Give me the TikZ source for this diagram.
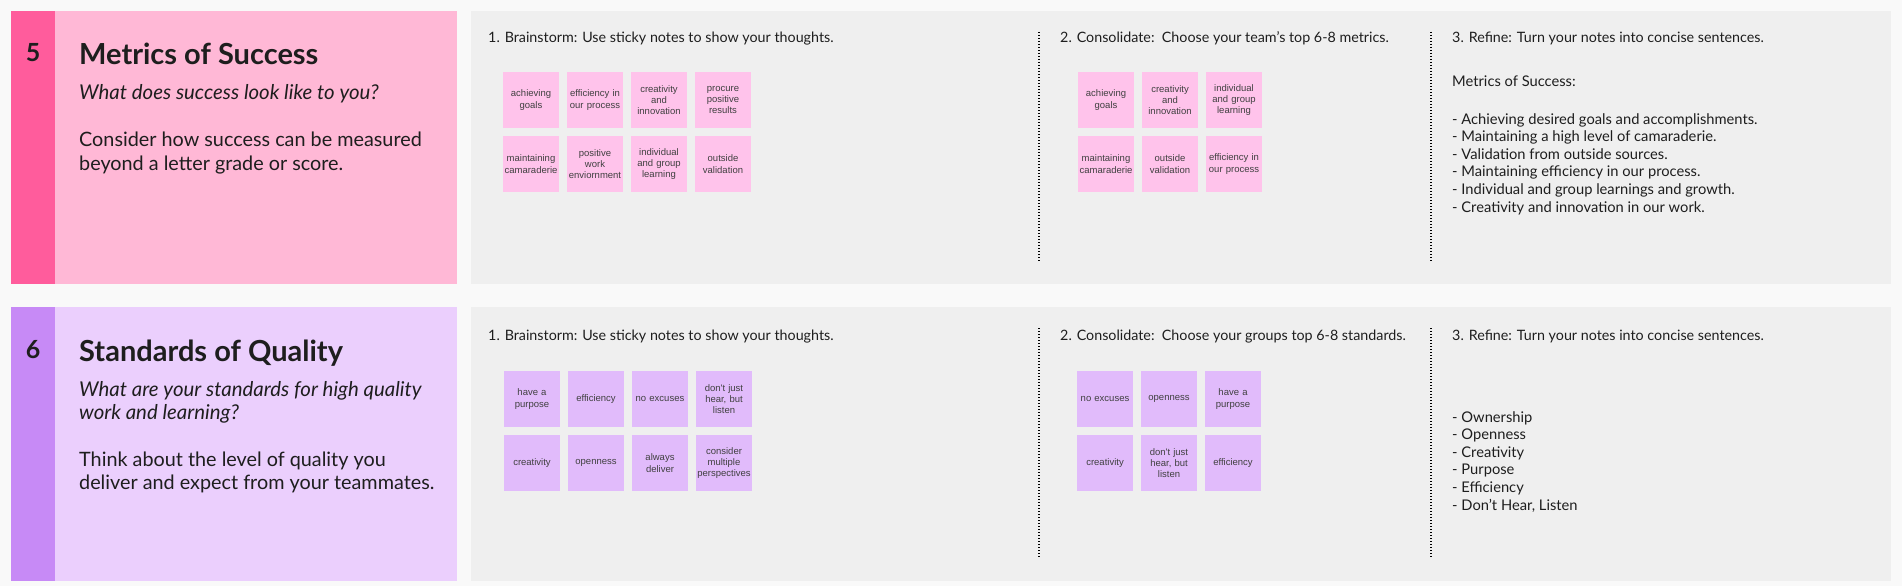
\documentclass[tikz,border=0pt]{standalone}
\usepackage{fontspec}
\setmainfont{Lato}
\newfontfamily\notefont{Liberation Sans}
\usetikzlibrary{positioning}
\definecolor{pagebg}{HTML}{F9F9F9}
\definecolor{workbg}{HTML}{EFEFEF}
\definecolor{pinkbar}{HTML}{FF5C9C}
\definecolor{pinkpanel}{HTML}{FFB8D6}
\definecolor{pinknote}{HTML}{FFC3EB}
\definecolor{purplebar}{HTML}{C78AF6}
\definecolor{purplepanel}{HTML}{EBCFFD}
\definecolor{purplenote}{HTML}{E1BBFB}
\definecolor{ink}{HTML}{1E1E1E}
\tikzset{font={\fontsize{14.3pt}{17.6pt}\selectfont}}
\tikzset{
  linetext/.style={anchor=base west, inner sep=0pt, text=ink},
  itemtext/.style={linetext, font={\fontsize{14.7pt}{17.6pt}\selectfont}},
  numtext/.style={anchor=base, inner sep=0pt, text=ink, font={\bfseries\fontsize{25pt}{25pt}\selectfont}},
  titletext/.style={linetext, font={\bfseries\fontsize{29pt}{29pt}\selectfont}},
  asktext/.style={linetext, font={\itshape\fontsize{20.4pt}{23pt}\selectfont}},
  bodytext/.style={linetext, font={\fontsize{19.8pt}{24pt}\selectfont}},
  stickynote/.style={minimum size=56pt, inner sep=0pt, text width=54pt, align=center, text=ink!85,
    font={\notefont\fontsize{9.5pt}{11.3pt}\selectfont}},
  divider/.style={line width=1.3pt, dash pattern=on 1.4pt off 1.6pt},
}
\begin{document}
\begin{tikzpicture}[x=1pt,y=-1pt]
  \useasboundingbox[fill=pagebg] (0,0) rectangle (1902,586);
  %row 5 panels
  \fill[pinkpanel] (11,11) rectangle (457,284);
  \fill[pinkbar] (11,11) rectangle (55,284);
  \fill[workbg] (471,11) rectangle (1891,284);
  %row 6 panels
  \fill[purplepanel] (11,307) rectangle (457,581);
  \fill[purplebar] (11,307) rectangle (55,581);
  \fill[workbg] (471,307) rectangle (1891,581);
  %dividers
  \foreach \x in {1039,1431}{
    \draw[divider] (\x,32) -- (\x,262);
    \draw[divider] (\x,328) -- (\x,558);
  }
  %left card, metrics
  \node[numtext] (num5) at (33,61) {5};
  \node[titletext] (title5) at (79,64) {Metrics of Success};
  \node[asktext] (ask5) at (79,99) {What does success look like to you?};
  \node[bodytext] (body5a) at (79,146) {Consider how success can be measured};
  \node[bodytext] (body5b) at (79,170) {beyond a letter grade or score.};
  %left card, standards
  \node[numtext] (num6) at (33,358) {6};
  \node[titletext] (title6) at (79,361) {Standards of Quality};
  \node[asktext] (ask6a) at (79,396) {What are your standards for high quality};
  \node[asktext] (ask6b) at (79,419) {work and learning?};
  \node[bodytext] (body6a) at (79,466) {Think about the level of quality you};
  \node[bodytext] (body6b) at (79,489) {deliver and expect from your teammates.};
  %step headers
  \node[linetext] (brain5) at (488,43) {1. Brainstorm: Use sticky notes to show your thoughts.};
  \node[linetext] (cons5) at (1060,43) {2. Consolidate:\ \ Choose your team's top 6-8 metrics.};
  \node[linetext] (refine5) at (1452,43) {3. Refine: Turn your notes into concise sentences.};
  \node[linetext] (brain6) at (488,340) {1. Brainstorm: Use sticky notes to show your thoughts.};
  \node[linetext] (cons6) at (1060,340) {2. Consolidate:\ \ Choose your groups top 6-8 standards.};
  \node[linetext] (refine6) at (1452,340) {3. Refine: Turn your notes into concise sentences.};
  %sticky notes, brainstorm
  \foreach \c/\r/\t [count=\i] in {1/1/{achieving\\goals}, 2/1/{efficiency in\\our process},
      3/1/{creativity\\and\\innovation}, 4/1/{procure\\positive\\results}, 1/2/{maintaining\\camaraderie},
      2/2/{positive\\work\\enviornment}, 3/2/{individual\\and group\\learning}, 4/2/{outside\\validation}}
    \node[stickynote, fill=pinknote] (bs5n\i) at (467+64*\c,36+64*\r) {\t};
  \foreach \c/\r/\t [count=\i] in {1/1/{have a\\purpose}, 2/1/{efficiency}, 3/1/{no excuses},
      4/1/{don't just\\hear, but\\listen}, 1/2/{creativity}, 2/2/{openness}, 3/2/{always\\deliver},
      4/2/{consider\\multiple\\perspectives}}
    \node[stickynote, fill=purplenote] (bs6n\i) at (468+64*\c,335+64*\r) {\t};
  %sticky notes, consolidate
  \foreach \c/\r/\t [count=\i] in {1/1/{achieving\\goals}, 2/1/{creativity\\and\\innovation},
      3/1/{individual\\and group\\learning}, 1/2/{maintaining\\camaraderie}, 2/2/{outside\\validation},
      3/2/{efficiency in\\our process}}
    \node[stickynote, fill=pinknote] (cs5n\i) at (1042+64*\c,36+64*\r) {\t};
  \foreach \c/\r/\t [count=\i] in {1/1/{no excuses}, 2/1/{openness}, 3/1/{have a\\purpose},
      1/2/{creativity}, 2/2/{don't just\\hear, but\\listen}, 3/2/{efficiency}}
    \node[stickynote, fill=purplenote] (cs6n\i) at (1041+64*\c,335+64*\r) {\t};
  %refined lists
  \node[itemtext] (list5) at (1452,86) {Metrics of Success:};
  \foreach \t [count=\i] in {- Achieving desired goals and accomplishments., - Maintaining a high level of camaraderie.,
      - Validation from outside sources., - Maintaining efficiency in our process.,
      - Individual and group learnings and growth., - Creativity and innovation in our work.}
    \node[itemtext] (item5n\i) at (1452,106.4+17.6*\i) {\t};
  \foreach \t [count=\i] in {- Ownership, - Openness, - Creativity, - Purpose, - Efficiency, {- Don't Hear, Listen}}
    \node[itemtext] (item6n\i) at (1452,404.4+17.6*\i) {\t};
\end{tikzpicture}
\end{document}
